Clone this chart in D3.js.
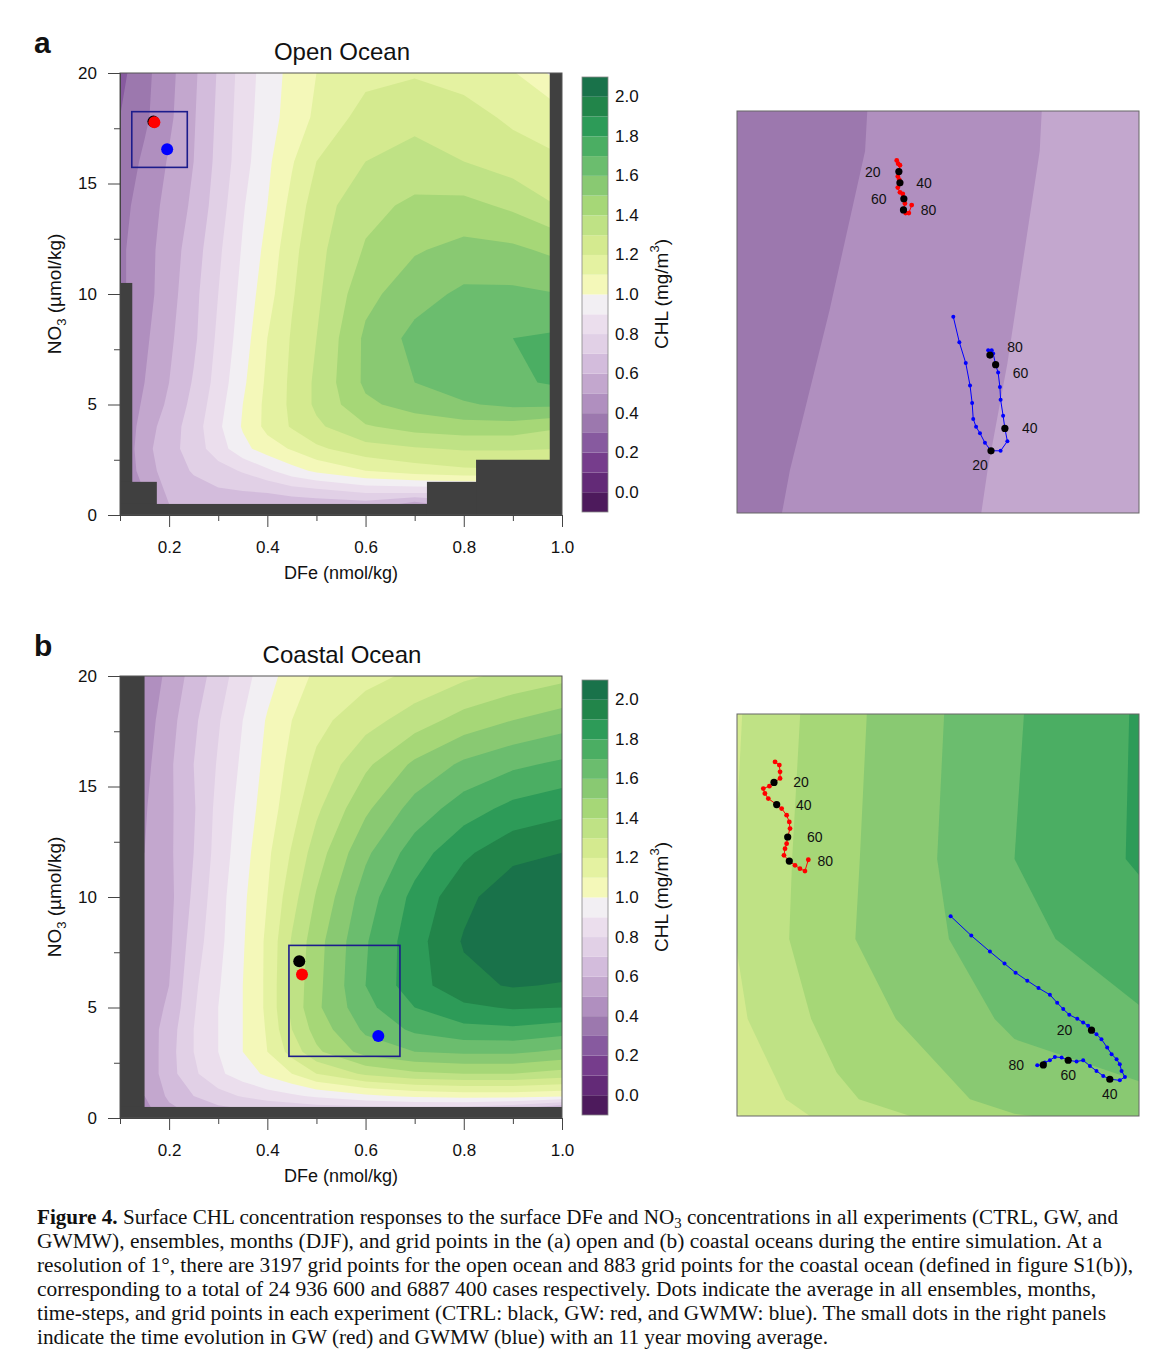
<!DOCTYPE html>
<html>
<head>
<meta charset="utf-8">
<script src="https://cdn.jsdelivr.net/npm/d3@7"></script>
<style>
  body { margin: 0; background: #fff; }
  svg text { font-family: "Liberation Sans", Arial, sans-serif; fill: #111; }
  .caption text { font-family: "Liberation Serif", "Times New Roman", serif; fill: #111; }
</style>
</head>
<body>
<svg id="fig" width="1168" height="1371"></svg>
<script>
// ---- grid of the binned CHL field (columns = DFe, rows = NO3) ----
const dfeGrid = [0.1, 0.15, 0.2, 0.25, 0.3, 0.35, 0.4, 0.45, 0.5, 0.6, 0.7, 0.8, 0.9, 1.0];
const no3Grid = [0, 1, 2, 3, 4, 5, 6, 8, 10, 12, 14, 16, 18, 20];

// CHL (mg/m3), one row per NO3 value, bottom row first
const chlOpen = [
  [0.40, 0.45, 0.58, 0.60, 0.58, 0.56, 0.55, 0.55, 0.54, 0.52, 0.30, 0.50, 0.50, 0.50],
  [0.40, 0.50, 0.62, 0.66, 0.68, 0.69, 0.70, 0.73, 0.75, 0.80, 0.80, 0.80, 0.80, 0.80],
  [0.40, 0.55, 0.65, 0.71, 0.76, 0.81, 0.88, 0.96, 1.02, 1.10, 1.15, 1.18, 1.19, 1.18],
  [0.40, 0.57, 0.66, 0.75, 0.85, 0.97, 1.05, 1.11, 1.18, 1.26, 1.29, 1.31, 1.31, 1.30],
  [0.40, 0.55, 0.65, 0.75, 0.88, 1.01, 1.13, 1.21, 1.28, 1.39, 1.44, 1.46, 1.46, 1.41],
  [0.40, 0.52, 0.62, 0.73, 0.86, 1.00, 1.13, 1.22, 1.32, 1.48, 1.54, 1.59, 1.62, 1.62],
  [0.40, 0.50, 0.60, 0.71, 0.84, 0.98, 1.12, 1.22, 1.32, 1.52, 1.60, 1.65, 1.68, 1.72],
  [0.40, 0.48, 0.58, 0.68, 0.82, 0.95, 1.10, 1.21, 1.30, 1.52, 1.63, 1.67, 1.70, 1.72],
  [0.38, 0.46, 0.56, 0.67, 0.80, 0.93, 1.06, 1.19, 1.28, 1.47, 1.56, 1.62, 1.62, 1.60],
  [0.38, 0.46, 0.55, 0.65, 0.78, 0.91, 1.03, 1.17, 1.27, 1.41, 1.49, 1.53, 1.52, 1.47],
  [0.36, 0.45, 0.53, 0.62, 0.75, 0.89, 1.00, 1.13, 1.25, 1.37, 1.42, 1.43, 1.38, 1.29],
  [0.33, 0.42, 0.51, 0.60, 0.73, 0.86, 0.98, 1.09, 1.20, 1.30, 1.34, 1.30, 1.25, 1.21],
  [0.30, 0.38, 0.48, 0.59, 0.72, 0.85, 0.96, 1.04, 1.12, 1.24, 1.27, 1.24, 1.18, 1.14],
  [0.27, 0.37, 0.47, 0.58, 0.71, 0.84, 0.95, 1.03, 1.10, 1.17, 1.19, 1.16, 1.11, 0.95]
];

const chlCoastal = [
  [0.45, 0.45, 0.55, 0.60, 0.62, 0.62, 0.62, 0.62, 0.62, 0.60, 0.58, 0.55, 0.45, 0.25],
  [0.50, 0.50, 0.62, 0.70, 0.76, 0.81, 0.85, 0.88, 0.92, 0.98, 1.02, 1.04, 1.04, 1.02],
  [0.52, 0.52, 0.66, 0.78, 0.88, 0.95, 1.02, 1.10, 1.20, 1.32, 1.38, 1.40, 1.40, 1.36],
  [0.52, 0.52, 0.66, 0.80, 0.90, 1.00, 1.10, 1.24, 1.38, 1.54, 1.60, 1.62, 1.62, 1.58],
  [0.53, 0.53, 0.65, 0.80, 0.90, 1.00, 1.11, 1.30, 1.44, 1.62, 1.72, 1.77, 1.78, 1.75],
  [0.53, 0.53, 0.62, 0.79, 0.90, 1.00, 1.12, 1.33, 1.48, 1.67, 1.80, 1.88, 1.91, 1.90],
  [0.52, 0.52, 0.60, 0.78, 0.89, 1.00, 1.12, 1.33, 1.47, 1.70, 1.86, 1.97, 2.01, 1.99],
  [0.51, 0.51, 0.58, 0.75, 0.87, 0.99, 1.12, 1.31, 1.46, 1.69, 1.86, 2.01, 2.10, 2.12],
  [0.50, 0.50, 0.57, 0.72, 0.86, 0.98, 1.10, 1.26, 1.41, 1.65, 1.83, 1.97, 2.07, 2.10],
  [0.50, 0.50, 0.58, 0.70, 0.84, 0.96, 1.08, 1.21, 1.35, 1.58, 1.75, 1.88, 1.97, 2.00],
  [0.49, 0.49, 0.58, 0.69, 0.83, 0.94, 1.05, 1.16, 1.28, 1.48, 1.64, 1.75, 1.83, 1.87],
  [0.47, 0.47, 0.58, 0.70, 0.81, 0.92, 1.03, 1.13, 1.22, 1.38, 1.52, 1.62, 1.68, 1.72],
  [0.45, 0.45, 0.56, 0.68, 0.79, 0.90, 1.01, 1.10, 1.17, 1.26, 1.35, 1.44, 1.50, 1.55],
  [0.42, 0.42, 0.53, 0.64, 0.75, 0.86, 0.96, 1.05, 1.12, 1.17, 1.22, 1.28, 1.33, 1.37]
];

// contour levels and the colour of each band (below 0.0 ... above 2.0)
const levels = [0.0, 0.1, 0.2, 0.3, 0.4, 0.5, 0.6, 0.7, 0.8, 0.9, 1.0,
                1.1, 1.2, 1.3, 1.4, 1.5, 1.6, 1.7, 1.8, 1.9, 2.0];
const bandColors = ["#4d1a5c", "#632a77", "#763d8c", "#875a9f", "#9c78ae", "#b08fbf",
                    "#c3a7ce", "#d3bcdc", "#e1d0e6", "#ebdeed", "#f2eff3", "#f4f8b9",
                    "#e4f2a1", "#d4ea8f", "#bfe285", "#a6d777", "#89c972", "#6bbd6e",
                    "#4bae63", "#2d9b58", "#22854a", "#19724a"];

// tick labels
const cbarTicks = [0.0, 0.2, 0.4, 0.6, 0.8, 1.0, 1.2, 1.4, 1.6, 1.8, 2.0];
const xMajor = [0.2, 0.4, 0.6, 0.8, 1.0];
const xMinor = [0.1, 0.3, 0.5, 0.7, 0.9];
const yMajor = [0, 5, 10, 15, 20];
const yMinor = [2.5, 7.5, 12.5, 17.5];

// bins without data: [dfe0, dfe1, no3_0, no3_1]
const maskOpen = [[0.1, 0.125, 0, 10.5], [0.1, 0.175, 0, 1.5], [0.1, 1.0, 0, 0.5],
                  [0.725, 1.0, 0, 1.5], [0.825, 1.0, 0, 2.5], [0.975, 1.0, 0, 20]];
const maskCoastal = [[0.1, 0.15, 0, 20], [0.1, 1.0, 0, 0.5]];

// experiment means [DFe, NO3]
const ctrlOpen = [0.168, 17.80], gwOpen = [0.170, 17.77], gwmwOpen = [0.196, 16.55];
const ctrlCoastal = [0.465, 7.09], gwCoastal = [0.4706, 6.49], gwmwCoastal = [0.626, 3.71];

// zoom windows [dfe0, dfe1, no3_0, no3_1]
const zoomOpen = [0.124, 0.237, 15.73, 18.25];
const zoomCoastal = [0.444, 0.670, 2.79, 7.81];

// 11-year moving averages (small dots); marks at years 20, 40, 60, 80
const markYears = [20, 40, 60, 80];
const gwOpenDfe = [0.1689, 0.1693, 0.1698, 0.1695, 0.1692, 0.1696, 0.1698, 0.1692, 0.1698, 0.1706, 0.1709, 0.1712, 0.1708, 0.1714, 0.1723, 0.1731];
const gwOpenNo3 = [17.94, 17.92, 17.91, 17.87, 17.84, 17.82, 17.80, 17.77, 17.74, 17.73, 17.70, 17.67, 17.63, 17.61, 17.61, 17.66];
const gwOpenMarks = [3, 6, 10, 12];
const gwmwOpenDfe = [0.1848, 0.1865, 0.1883, 0.1895, 0.1901, 0.1904, 0.1912, 0.1923, 0.1937, 0.1954, 0.1981, 0.2000, 0.1993, 0.1988, 0.1981, 0.1979, 0.1974, 0.1967, 0.1960, 0.1951, 0.1946, 0.1956];
const gwmwOpenNo3 = [16.96, 16.80, 16.67, 16.53, 16.42, 16.32, 16.27, 16.23, 16.17, 16.12, 16.12, 16.18, 16.26, 16.34, 16.44, 16.52, 16.61, 16.66, 16.73, 16.72, 16.75, 16.75];
const gwmwOpenMarks = [9, 12, 17, 19];
const gwCoastDfe = [0.4654, 0.4678, 0.4682, 0.4682, 0.4648, 0.4622, 0.4588, 0.4597, 0.4616, 0.4663, 0.4691, 0.4719, 0.4734, 0.4738, 0.4725, 0.4719, 0.4710, 0.4704, 0.4734, 0.4766, 0.4794, 0.4822, 0.4841];
const gwCoastNo3 = [7.213, 7.172, 7.088, 7.005, 6.955, 6.909, 6.879, 6.817, 6.754, 6.679, 6.629, 6.546, 6.462, 6.379, 6.274, 6.191, 6.128, 6.045, 5.974, 5.920, 5.878, 5.849, 5.990];
const gwCoastMarks = [4, 9, 14, 18];
const gwmwCoastDfe = [0.5641, 0.5757, 0.5862, 0.5944, 0.6006, 0.6072, 0.6135, 0.6199, 0.6240, 0.6274, 0.6308, 0.6353, 0.6386, 0.6414, 0.6433, 0.6461, 0.6489, 0.6521, 0.6546, 0.6574, 0.6592, 0.6602, 0.6621, 0.6592, 0.6536, 0.6499, 0.6461, 0.6424, 0.6386, 0.6349, 0.6302, 0.6265, 0.6227, 0.6199, 0.6171, 0.6162, 0.6128];
const gwmwCoastNo3 = [5.285, 5.043, 4.843, 4.693, 4.580, 4.480, 4.388, 4.304, 4.204, 4.125, 4.054, 4.004, 3.958, 3.916, 3.862, 3.812, 3.749, 3.645, 3.562, 3.499, 3.436, 3.353, 3.278, 3.236, 3.249, 3.290, 3.353, 3.415, 3.486, 3.470, 3.486, 3.520, 3.528, 3.486, 3.457, 3.428, 3.424];
const gwmwCoastMarks = [14, 24, 30, 35];

const captionLines = [
  "GWMW), ensembles, months (DJF), and grid points in the (a) open and (b) coastal oceans during the entire simulation. At a",
  "resolution of 1°, there are 3197 grid points for the open ocean and 883 grid points for the coastal ocean (defined in figure S1(b)),",
  "corresponding to a total of 24 936 600 and 6887 400 cases respectively. Dots indicate the average in all ensembles, months,",
  "time-steps, and grid points in each experiment (CTRL: black, GW: red, and GWMW: blue). The small dots in the right panels",
  "indicate the time evolution in GW (red) and GWMW (blue) with an 11 year moving average."
];

// ---------------------------------------------------------------
const svg = d3.select("#fig");
const FONT = '"Liberation Sans", Arial, sans-serif';

// grid coordinate from d3.contours -> data value (cell centres sit at i + 0.5)
function gridToData(c, axis) {
  const t = Math.max(0, Math.min(axis.length - 1, c - 0.5));
  const i = Math.min(Math.floor(t), axis.length - 2);
  return axis[i] + (t - i) * (axis[i + 1] - axis[i]);
}

function contourSet(grid) {
  return d3.contours()
    .size([dfeGrid.length, no3Grid.length])
    .thresholds(levels)(grid.flat());
}

function drawField(g, contours, x, y, clipId) {
  const path = d3.geoPath(d3.geoTransform({
    point(px, py) {
      this.stream.point(x(gridToData(px, dfeGrid)), y(gridToData(py, no3Grid)));
    }
  }));
  g.append("g")
    .attr("clip-path", `url(#${clipId})`)
    .selectAll("path")
    .data(contours)
    .enter()
    .append("path")
    .attr("d", path)
    .attr("fill", (d, i) => bandColors[i + 1]);
}

function addClip(id, x0, y0, w, h) {
  svg.append("clipPath").attr("id", id)
    .append("rect").attr("x", x0).attr("y", y0).attr("width", w).attr("height", h);
}

function drawPanel(cfg) {
  const left = 120, right = 562;
  const x = d3.scaleLinear().domain([0.1, 1.0]).range([left, right]);
  const y = d3.scaleLinear().domain([0, 20]).range([cfg.bottom, cfg.top]);
  const g = svg.append("g");
  const contours = contourSet(cfg.grid);

  addClip(cfg.id + "-clip", left, cfg.top, right - left, cfg.bottom - cfg.top);
  drawField(g, contours, x, y, cfg.id + "-clip");

  // missing-data bins
  g.selectAll(".mask")
    .data(cfg.mask)
    .enter()
    .append("rect")
    .attr("x", d => x(d[0]))
    .attr("y", d => y(d[3]))
    .attr("width", d => x(d[1]) - x(d[0]))
    .attr("height", d => y(d[2]) - y(d[3]))
    .attr("fill", "#404040");

  // frame
  g.append("rect")
    .attr("x", left).attr("y", cfg.top)
    .attr("width", right - left).attr("height", cfg.bottom - cfg.top)
    .attr("fill", "none").attr("stroke", "#555").attr("stroke-width", 1);

  // axes
  const styleAxis = sel => {
    sel.select(".domain").attr("stroke", "#444");
    sel.selectAll(".tick line").attr("stroke", "#444");
    sel.selectAll("text").style("font-size", "17px").style("font-family", FONT).attr("fill", "#111");
  };
  g.append("g").attr("transform", `translate(0,${cfg.bottom})`)
    .call(d3.axisBottom(x).tickValues(xMajor).tickSize(12).tickPadding(14)
      .tickSizeOuter(0).tickFormat(d3.format(".1f")))
    .call(styleAxis);
  g.append("g").attr("transform", `translate(0,${cfg.bottom})`)
    .call(d3.axisBottom(x).tickValues(xMinor).tickSize(6).tickSizeOuter(0).tickFormat(""))
    .call(styleAxis);
  g.append("g").attr("transform", `translate(${left},0)`)
    .call(d3.axisLeft(y).tickValues(yMajor).tickSize(12).tickPadding(11).tickSizeOuter(0))
    .call(styleAxis);
  g.append("g").attr("transform", `translate(${left},0)`)
    .call(d3.axisLeft(y).tickValues(yMinor).tickSize(6).tickSizeOuter(0).tickFormat(""))
    .call(styleAxis);

  // axis titles
  g.append("text")
    .attr("x", (left + right) / 2).attr("y", cfg.bottom + 64)
    .attr("text-anchor", "middle").style("font-size", "18px")
    .text("DFe (nmol/kg)");
  const yl = g.append("text")
    .attr("transform", `translate(61,${(cfg.top + cfg.bottom) / 2}) rotate(-90)`)
    .attr("text-anchor", "middle").style("font-size", "19px");
  yl.append("tspan").text("NO");
  yl.append("tspan").attr("dy", 5).style("font-size", "13px").text("3");
  yl.append("tspan").attr("dy", -5).text(" (µmol/kg)");

  // title and panel letter
  g.append("text")
    .attr("x", (left + right) / 2 + 1).attr("y", cfg.top - 13)
    .attr("text-anchor", "middle").style("font-size", "24px")
    .text(cfg.title);
  g.append("text")
    .attr("x", 34).attr("y", cfg.top - 20)
    .style("font-size", "30px").style("font-weight", "bold")
    .text(cfg.letter);

  // zoom box and experiment means
  const z = cfg.zoom;
  g.append("rect")
    .attr("x", x(z[0])).attr("y", y(z[3]))
    .attr("width", x(z[1]) - x(z[0])).attr("height", y(z[2]) - y(z[3]))
    .attr("fill", "none").attr("stroke", "#1c1c8c").attr("stroke-width", 1.6);
  const means = [[cfg.ctrl, "#000"], [cfg.gw, "#f00"], [cfg.gwmw, "#00f"]];
  g.selectAll(".mean")
    .data(means)
    .enter()
    .append("circle")
    .attr("cx", d => x(d[0][0])).attr("cy", d => y(d[0][1]))
    .attr("r", 6).attr("fill", d => d[1]);

  // colour bar
  const cbTop = cfg.top + 4, cbBottom = cfg.bottom - 3;
  const cb = d3.scaleLinear().domain([-0.1, 2.1]).range([cbBottom, cbTop]);
  const edges = [-0.1].concat(levels, [2.1]);
  g.selectAll(".band")
    .data(bandColors)
    .enter()
    .append("rect")
    .attr("x", 582).attr("width", 26)
    .attr("y", (d, i) => cb(edges[i + 1]))
    .attr("height", (d, i) => cb(edges[i]) - cb(edges[i + 1]))
    .attr("fill", d => d);
  g.append("rect")
    .attr("x", 582).attr("y", cbTop).attr("width", 26).attr("height", cbBottom - cbTop)
    .attr("fill", "none").attr("stroke", "#888").attr("stroke-width", 0.8);
  g.selectAll(".cbl")
    .data(cbarTicks)
    .enter()
    .append("text")
    .attr("x", 615).attr("y", d => cb(d))
    .attr("dominant-baseline", "central")
    .style("font-size", "17px")
    .text(d => d.toFixed(1));
  const cl = g.append("text")
    .attr("transform", `translate(661,${(cfg.top + cfg.bottom) / 2}) rotate(-90)`)
    .attr("text-anchor", "middle").attr("dominant-baseline", "central")
    .style("font-size", "19px");
  cl.append("tspan").text("CHL (mg/m");
  cl.append("tspan").attr("dy", -7).style("font-size", "13px").text("3");
  cl.append("tspan").attr("dy", 7).text(")");

  // right-hand zoom panel
  const zx0 = 737, zx1 = 1139, zy0 = cfg.zoomTop, zy1 = cfg.zoomTop + 402;
  const zxs = d3.scaleLinear().domain([z[0], z[1]]).range([zx0, zx1]);
  const zys = d3.scaleLinear().domain([z[2], z[3]]).range([zy1, zy0]);
  addClip(cfg.id + "-zclip", zx0, zy0, zx1 - zx0, zy1 - zy0);
  drawField(g, contours, zxs, zys, cfg.id + "-zclip");
  g.append("rect")
    .attr("x", zx0).attr("y", zy0).attr("width", zx1 - zx0).attr("height", zy1 - zy0)
    .attr("fill", "none").attr("stroke", "#666").attr("stroke-width", 1);

  cfg.tracks.forEach(t => {
    const pts = t.dfe.map((v, i) => [zxs(v), zys(t.no3[i])]);
    g.append("path")
      .attr("d", d3.line()(pts))
      .attr("fill", "none").attr("stroke", t.color).attr("stroke-width", 1);
    g.selectAll(null)
      .data(pts)
      .enter()
      .append("circle")
      .attr("cx", d => d[0]).attr("cy", d => d[1])
      .attr("r", t.r).attr("fill", t.color);
    t.marks.forEach((idx, k) => {
      g.append("circle")
        .attr("cx", pts[idx][0]).attr("cy", pts[idx][1])
        .attr("r", 3.6).attr("fill", "#000");
      g.append("text")
        .attr("x", pts[idx][0] + t.offsets[k][0]).attr("y", pts[idx][1] + t.offsets[k][1])
        .attr("text-anchor", "middle").attr("dominant-baseline", "central")
        .style("font-size", "14px")
        .text(markYears[k]);
    });
  });
}

drawPanel({
  id: "open", letter: "a", title: "Open Ocean", top: 73, bottom: 515, zoomTop: 111,
  grid: chlOpen, mask: maskOpen, zoom: zoomOpen,
  ctrl: ctrlOpen, gw: gwOpen, gwmw: gwmwOpen,
  tracks: [
    { dfe: gwOpenDfe, no3: gwOpenNo3, marks: gwOpenMarks, color: "#f00", r: 2.4,
      offsets: [[-26, 0], [24, 0], [-25, 0], [25, 0]] },
    { dfe: gwmwOpenDfe, no3: gwmwOpenNo3, marks: gwmwOpenMarks, color: "#00f", r: 2,
      offsets: [[-11, 14], [25, 0], [25, 8], [25, -8]] }
  ]
});

drawPanel({
  id: "coast", letter: "b", title: "Coastal Ocean", top: 676, bottom: 1118, zoomTop: 714,
  grid: chlCoastal, mask: maskCoastal, zoom: zoomCoastal,
  ctrl: ctrlCoastal, gw: gwCoastal, gwmw: gwmwCoastal,
  tracks: [
    { dfe: gwCoastDfe, no3: gwCoastNo3, marks: gwCoastMarks, color: "#f00", r: 2.4,
      offsets: [[27, 0], [27, 0], [27, 0], [36, 0]] },
    { dfe: gwmwCoastDfe, no3: gwmwCoastNo3, marks: gwmwCoastMarks, color: "#00f", r: 2,
      offsets: [[-27, 0], [0, 15], [0, 15], [-27, 0]] }
  ]
});

// ---- caption ----
const cap = svg.append("g").attr("class", "caption");
const first = cap.append("text")
  .attr("x", 37).attr("y", 1224)
  .attr("textLength", 1081).attr("lengthAdjust", "spacingAndGlyphs")
  .style("font-size", "20px");
first.append("tspan").style("font-weight", "bold").text("Figure 4.");
first.append("tspan").text(" Surface CHL concentration responses to the surface DFe and NO");
first.append("tspan").attr("dy", 4).style("font-size", "14px").text("3");
first.append("tspan").attr("dy", -4).text(" concentrations in all experiments (CTRL, GW, and");

const capWidths = [1065, 1096, 1059, 1069, 791];
cap.selectAll(".cl")
  .data(captionLines)
  .enter()
  .append("text")
  .attr("x", 37)
  .attr("y", (d, i) => 1248 + i * 24)
  .attr("textLength", (d, i) => capWidths[i])
  .attr("lengthAdjust", "spacingAndGlyphs")
  .style("font-size", "20px")
  .text(d => d);
</script>
</body>
</html>
